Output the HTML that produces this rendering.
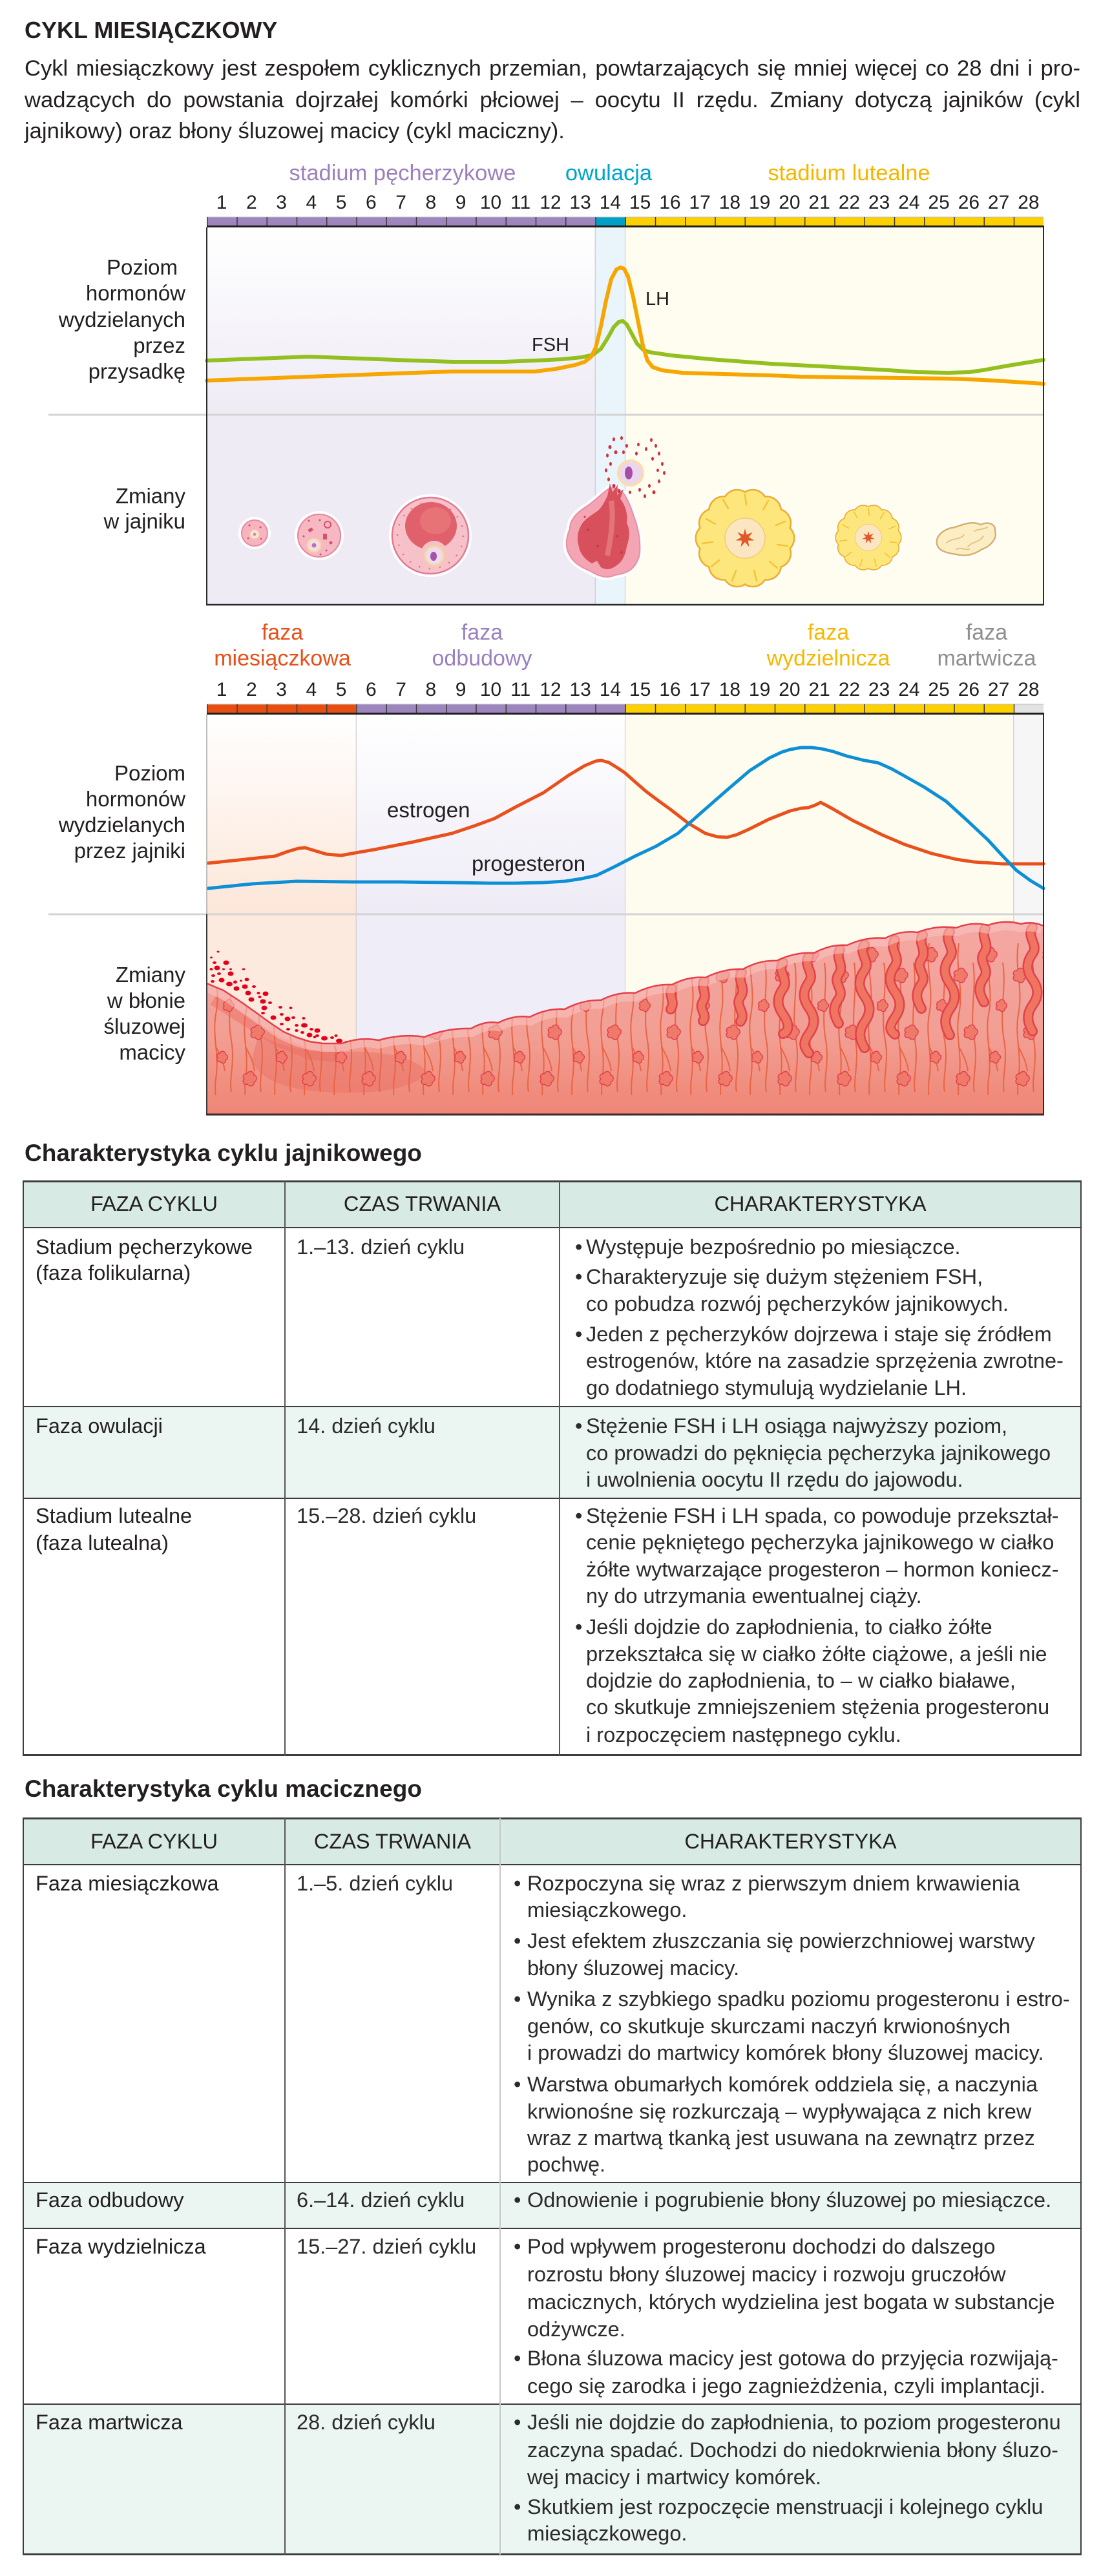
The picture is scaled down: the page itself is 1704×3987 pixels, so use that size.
<!DOCTYPE html>
<html><head><meta charset="utf-8">
<style>
html,body{margin:0;padding:0;background:#fff;}
body{width:1704px;height:3987px;position:relative;overflow:hidden;font-family:"Liberation Sans",Arial,sans-serif;color:#231f20;}
.a{position:absolute;white-space:nowrap;}
.title{left:38px;top:27px;font-weight:bold;font-size:36px;line-height:40px;}
.p{left:38px;width:1634px;font-size:34.6px;line-height:40px;text-align:justify;text-align-last:justify;}
.p3{text-align:left;text-align-last:left;}
.h{left:38px;font-weight:bold;font-size:37px;line-height:41px;}
.t{font-size:32.5px;line-height:37px;color:#231f20;}
.c3{color:#2b2b2b;}
.hd{font-size:32.5px;line-height:37px;text-align:center;}
.bg{position:absolute;}
.hl{position:absolute;background:#3d3d3d;}
</style></head><body>

<div class="a title">CYKL MIESIĄCZKOWY</div>
<div class="a p" style="top:86px">Cykl miesiączkowy jest zespołem cyklicznych przemian, powtarzających się mniej więcej co 28 dni i pro-</div>
<div class="a p" style="top:135px">wadzących do powstania dojrzałej komórki płciowej – oocytu II rzędu. Zmiany dotyczą jajników (cykl</div>
<div class="a p p3" style="top:183px">jajnikowy) oraz błony śluzowej macicy (cykl maciczny).</div>

<svg width="1704" height="1760" viewBox="0 0 1704 1760" style="position:absolute;left:0;top:0" font-family="'Liberation Sans', Arial, sans-serif">
<defs>
 <linearGradient id="g1lav" gradientUnits="userSpaceOnUse" x1="0" y1="352" x2="0" y2="640">
  <stop offset="0" stop-color="#ffffff"/><stop offset="1" stop-color="#eeebf5"/>
 </linearGradient>
 <linearGradient id="g2peach" gradientUnits="userSpaceOnUse" x1="0" y1="1106" x2="0" y2="1415">
  <stop offset="0" stop-color="#ffffff"/><stop offset="1" stop-color="#fce6d8"/>
 </linearGradient>
 <linearGradient id="g2lav" gradientUnits="userSpaceOnUse" x1="0" y1="1106" x2="0" y2="1415">
  <stop offset="0" stop-color="#ffffff"/><stop offset="1" stop-color="#eeebf6"/>
 </linearGradient>
 <linearGradient id="endo" gradientUnits="userSpaceOnUse" x1="0" y1="1430" x2="0" y2="1725">
  <stop offset="0" stop-color="#f4a8a3"/><stop offset="0.6" stop-color="#f29e93"/><stop offset="0.85" stop-color="#f08e7f"/><stop offset="1" stop-color="#ef8676"/>
 </linearGradient>
 <clipPath id="endoClip">
  <path d="M320,1725 L320,1522 L346,1533 L372,1550 L396,1567 L418,1583 L439,1597 L460,1606 L479,1612 L500,1615 L529,1615 Q557.5,1604.5 586,1610 Q621.5,1599.5 657,1605 Q693,1590.5 729,1592 Q750,1579.5 771,1583 Q795.5,1570.5 820,1574 Q847,1560 874,1562 Q902,1547 930,1548 Q956.5,1534.5 983,1537 Q1011.5,1522.5 1040,1524 Q1066,1510.5 1092,1513 Q1121,1498.5 1150,1500 Q1176,1485.5 1202,1487 Q1231,1473 1260,1475 Q1285.5,1461 1311,1463 Q1340.5,1449.5 1370,1452 Q1395,1439.5 1420,1443 Q1450,1431.5 1480,1436 Q1504.5,1426 1529,1432 Q1554.5,1423 1580,1430 Q1597.5,1425.5 1615,1433 L1615,1725 Z"/>
 </clipPath>
 <pattern id="gl" patternUnits="userSpaceOnUse" x="320" y="1420" width="46" height="300">
  <g fill="none" stroke="#ea6444" stroke-width="2">
   <path d="M14,40 C8,80 22,110 14,150 C8,185 20,210 14,250 C12,262 14,270 13,275"/>
   <path d="M14,200 C20,212 26,222 28,238"/>
   <path d="M36,70 C42,110 30,150 38,190 C44,225 34,250 38,270"/>
  </g>
 </pattern>
 <pattern id="bl" patternUnits="userSpaceOnUse" x="320" y="1440" width="92" height="260">
  <g fill="#ef7a6a" stroke="#e2404d" stroke-width="1.5">
   <path d="M12,30 c4,-6 11,-4 11,2 c6,1 5,9 0,11 c1,6 -7,8 -10,3 c-6,2 -9,-5 -5,-8 c-4,-4 0,-9 4,-8 z"/>
   <path d="M58,62 c4,-6 11,-4 11,2 c6,1 5,9 0,11 c1,6 -7,8 -10,3 c-6,2 -9,-5 -5,-8 c-4,-4 0,-9 4,-8 z"/>
   <path d="M30,110 c3,-5 9,-3 9,2 c5,1 4,8 0,9 c1,5 -6,6 -8,2 c-5,2 -7,-4 -4,-6 c-3,-3 0,-7 3,-7 z"/>
   <path d="M74,150 c4,-6 11,-4 11,2 c6,1 5,9 0,11 c1,6 -7,8 -10,3 c-6,2 -9,-5 -5,-8 c-4,-4 0,-9 4,-8 z"/>
   <path d="M20,190 c3,-5 9,-3 9,2 c5,1 4,8 0,9 c1,5 -6,6 -8,2 c-5,2 -7,-4 -4,-6 c-3,-3 0,-7 3,-7 z"/>
   <path d="M62,222 c4,-6 11,-4 11,2 c6,1 5,9 0,11 c1,6 -7,8 -10,3 c-6,2 -9,-5 -5,-8 c-4,-4 0,-9 4,-8 z"/>
  </g>
 </pattern>
 <g id="lobes">
  <circle cx="54" cy="0" r="21"/><circle cx="48.7" cy="23.4" r="21"/><circle cx="33.6" cy="42.2" r="21"/><circle cx="12" cy="52.7" r="21"/>
  <circle cx="-12" cy="52.7" r="21"/><circle cx="-33.6" cy="42.2" r="21"/><circle cx="-48.7" cy="23.4" r="21"/><circle cx="-54" cy="0" r="21"/>
  <circle cx="-48.7" cy="-23.4" r="21"/><circle cx="-33.6" cy="-42.2" r="21"/><circle cx="-12" cy="-52.7" r="21"/><circle cx="12" cy="-52.7" r="21"/>
  <circle cx="33.6" cy="-42.2" r="21"/><circle cx="48.7" cy="-23.4" r="21"/>
 </g>
 <g id="cl">
  <g fill="#fff" stroke="#fff" stroke-width="14"><use href="#lobes"/></g>
  <g fill="#fde77c" stroke="#efad2c" stroke-width="5"><use href="#lobes"/></g>
  <g fill="#fde77c"><use href="#lobes"/></g>
  <circle r="50" fill="#fde77c"/>
  <g fill="none" stroke="#f3c33a" stroke-width="2.5" stroke-linecap="round">
   <path d="M0,-68 L2,-52"/><path d="M36,-58 L28,-44"/><path d="M62,-26 L48,-20"/><path d="M66,12 L50,10"/>
   <path d="M50,46 L38,36"/><path d="M18,66 L14,50"/><path d="M-20,66 L-14,50"/><path d="M-52,44 L-40,34"/>
   <path d="M-66,8 L-50,6"/><path d="M-60,-30 L-46,-22"/><path d="M-34,-60 L-26,-46"/>
  </g>
  <circle r="31" fill="#fbe6c2" stroke="#f3c979" stroke-width="1.5"/>
  <polygon fill="#e0592a" points="0,-15 2.6,-5.41 11.73,-9.35 5.85,-1.34 14.62,3.34 4.69,3.74 6.51,13.51 0,6 -6.51,13.51 -4.69,3.74 -14.62,3.34 -5.85,-1.34 -11.73,-9.35 -2.6,-5.41"/>
 </g>
</defs>

<!-- ===== CHART 1 ===== -->
<g font-size="34.5" text-anchor="middle">
 <text x="623" y="279" fill="#9c80bd">stadium pęcherzykowe</text>
 <text x="942" y="279" fill="#00a3cc">owulacja</text>
 <text x="1314" y="279" fill="#f7b500">stadium lutealne</text>
</g>
<g font-size="30" text-anchor="middle" fill="#231f20">
 <text x="343.1" y="323">1</text><text x="389.4" y="323">2</text><text x="435.6" y="323">3</text><text x="481.9" y="323">4</text>
 <text x="528.1" y="323">5</text><text x="574.4" y="323">6</text><text x="620.6" y="323">7</text><text x="666.9" y="323">8</text>
 <text x="713.1" y="323">9</text><text x="759.4" y="323">10</text><text x="805.6" y="323">11</text><text x="851.9" y="323">12</text>
 <text x="898.1" y="323">13</text><text x="944.4" y="323">14</text><text x="990.6" y="323">15</text><text x="1036.9" y="323">16</text>
 <text x="1083.1" y="323">17</text><text x="1129.4" y="323">18</text><text x="1175.6" y="323">19</text><text x="1221.9" y="323">20</text>
 <text x="1268.1" y="323">21</text><text x="1314.4" y="323">22</text><text x="1360.6" y="323">23</text><text x="1406.9" y="323">24</text>
 <text x="1453.1" y="323">25</text><text x="1499.4" y="323">26</text><text x="1545.6" y="323">27</text><text x="1591.9" y="323">28</text>
</g>
<rect x="320" y="336" width="601.25" height="13" fill="#9d85bd"/>
<rect x="921.25" y="336" width="46.25" height="13" fill="#00a0c6"/>
<rect x="967.5" y="336" width="647.5" height="13" fill="#fdd000"/>
<line x1="320" y1="336" x2="1615" y2="336" stroke="#bdbdbd" stroke-width="1"/>
<line x1="320" y1="342.5" x2="1615" y2="342.5" stroke="#3b3b3b" stroke-width="13" stroke-dasharray="1.5 44.75"/>
<rect x="320" y="349" width="1296" height="3" fill="#1e1e1e"/>

<rect x="320" y="352" width="601.25" height="290" fill="url(#g1lav)"/>
<rect x="320" y="642" width="601.25" height="294" fill="#eeebf5"/>
<rect x="921.25" y="352" width="46.25" height="584" fill="#eaf4fb"/>
<rect x="967.5" y="352" width="647.5" height="584" fill="#fffdf0"/>
<line x1="921.25" y1="352" x2="921.25" y2="936" stroke="#cacaca" stroke-width="1.2"/>
<line x1="967.5" y1="352" x2="967.5" y2="936" stroke="#cacaca" stroke-width="1.2"/>
<line x1="75" y1="642" x2="1615" y2="642" stroke="#d4d4d4" stroke-width="3"/>

<g font-size="33" text-anchor="end" fill="#231f20">
 <text x="275" y="425">Poziom</text>
 <text x="287" y="465">hormonów</text>
 <text x="287" y="506">wydzielanych</text>
 <text x="287" y="546">przez</text>
 <text x="287" y="586">przysadkę</text>
 <text x="287" y="779">Zmiany</text>
 <text x="287" y="818">w jajniku</text>
</g>

<polyline fill="none" stroke="#93c01f" stroke-width="6" stroke-linejoin="round" stroke-linecap="round" points="320,558 400,555 478,552 560,555 640,558 701,560 780,560 829,558 870,556 900,553 918,549 930,540 940,524 950,506 958,498 964,497 970,502 978,517 986,532 995,541 1005,545 1038,550 1100,556 1193,563 1290,568 1375,573 1420,576 1467,577 1500,576 1521,573 1560,566 1615,557"/>
<polyline fill="none" stroke="#f7a600" stroke-width="6" stroke-linejoin="round" stroke-linecap="round" points="320,589 400,586 480,583 560,580 640,577 700,575 760,575 828,575 860,571 890,565 905,560 915,552 922,538 930,505 938,465 946,432 954,417 960,414 966,416 972,428 980,460 988,500 995,535 1002,558 1010,568 1024,573 1056,577 1120,579 1193,581 1238,583 1300,584 1400,585 1467,586 1521,588 1570,591 1615,594"/>
<text x="823" y="543" font-size="29" fill="#231f20">FSH</text>
<text x="999" y="472" font-size="29" fill="#231f20">LH</text>

<!-- follicle 1 -->
<circle cx="394" cy="825" r="25" fill="#fff"/>
<circle cx="394" cy="825" r="20" fill="#f6b4c0" stroke="#e88aa0" stroke-width="2"/>
<circle cx="394" cy="827" r="7" fill="#f9e2e6" stroke="#f5d28a" stroke-width="1.5"/>
<circle cx="394" cy="827" r="2.5" fill="#d58bb5"/>
<g fill="#d34a6a"><circle cx="386" cy="813" r="1.5"/><circle cx="403" cy="816" r="1.5"/><circle cx="384" cy="833" r="1.3"/><circle cx="404" cy="834" r="1.3"/></g>
<!-- follicle 2 -->
<circle cx="494" cy="829" r="38" fill="#fff"/>
<circle cx="494" cy="829" r="33" fill="#f6b8c2" stroke="#e7849a" stroke-width="2"/>
<circle cx="486" cy="844" r="10" fill="#f3dde8" stroke="#f8d9a0" stroke-width="2.5"/>
<circle cx="486" cy="844" r="3.5" fill="#c070b0"/>
<g fill="#d8506e"><rect x="477" y="818" width="7" height="5" transform="rotate(-30 480 820)"/><circle cx="507" cy="812" r="5" fill="none" stroke="#d8506e" stroke-width="2"/><rect x="500" y="826" width="6" height="9"/><circle cx="512" cy="840" r="2.5"/><circle cx="478" cy="806" r="1.5"/><circle cx="495" cy="805" r="1.5"/><circle cx="470" cy="830" r="1.5"/><circle cx="505" cy="852" r="1.5"/><circle cx="496" cy="858" r="1.5"/></g>
<!-- follicle 3 -->
<circle cx="666" cy="829" r="64" fill="#fff"/>
<circle cx="666" cy="829" r="59" fill="#f7c1ca" stroke="#e07a92" stroke-width="2.5"/>
<circle cx="666" cy="829" r="51" fill="none" stroke="#dd6b86" stroke-width="2.5" stroke-dasharray="2 14"/>
<ellipse cx="667" cy="814" rx="40" ry="37" fill="#e0616b"/>
<ellipse cx="674" cy="806" rx="24" ry="21" fill="#e97b7c" opacity="0.7"/>
<circle cx="672" cy="858" r="21" fill="#f7c1ca"/>
<circle cx="672" cy="860" r="15" fill="#eedcee" stroke="#f6d396" stroke-width="3"/>
<ellipse cx="671" cy="861" rx="5" ry="7" fill="#a553a6"/>
<!-- ruptured follicle -->
<path d="M941,757 C930,765 918,778 903,787 C890,796 882,806 882,818 C876,832 874,848 882,860 C888,872 904,880 914,884 C926,892 940,896 952,890 C966,888 980,884 987,867 C992,856 990,846 990,836 C988,822 986,812 982,802 C978,790 974,778 968,768 C962,758 952,752 941,757 Z" fill="#fff" stroke="#fff" stroke-width="10"/>
<path d="M941,757 C930,765 918,778 903,787 C890,796 882,806 882,818 C876,832 874,848 882,860 C888,872 904,880 914,884 C926,892 940,896 952,890 C966,888 980,884 987,867 C992,856 990,846 990,836 C988,822 986,812 982,802 C978,790 974,778 968,768 C962,758 952,752 941,757 Z" fill="#f4a5b4" stroke="#e88ea5" stroke-width="2"/>
<path d="M944,748 L948,762 L956,750 L955,766 L965,757 L960,772 C968,782 972,796 970,810 C976,820 974,834 970,846 C968,858 964,868 956,874 C948,880 940,884 930,878 L924,868 L916,872 C906,866 898,858 896,846 C892,834 894,822 900,812 C906,802 918,796 926,790 C932,784 936,776 940,768 Z" fill="#d8505c"/>
<path d="M946,775 C950,800 946,830 940,860" stroke="#e88484" stroke-width="8" fill="none" opacity="0.7"/>
<g fill="#b8404c"><circle cx="910" cy="820" r="2"/><circle cx="925" cy="845" r="2"/><circle cx="955" cy="830" r="2"/><circle cx="962" cy="855" r="2"/><circle cx="905" cy="800" r="1.5"/></g>
<circle cx="976" cy="732" r="21" fill="#fbdcae"/>
<circle cx="976" cy="732" r="17" fill="#ecd6ee"/>
<ellipse cx="973" cy="732" rx="6" ry="10" fill="#a64ea6"/>
<g fill="#d0303e">
 <ellipse cx="950" cy="680" rx="2" ry="3"/><ellipse cx="962" cy="678" rx="2" ry="3"/><ellipse cx="1008" cy="681" rx="2" ry="3"/><ellipse cx="944" cy="692" rx="2.5" ry="3"/>
 <ellipse cx="970" cy="690" rx="2" ry="3"/><ellipse cx="988" cy="688" rx="2" ry="2.5"/><ellipse cx="1000" cy="695" rx="2" ry="3"/><ellipse cx="1015" cy="690" rx="2" ry="3"/>
 <ellipse cx="940" cy="705" rx="2" ry="3"/><ellipse cx="953" cy="700" rx="2.5" ry="3"/><ellipse cx="1020" cy="702" rx="2" ry="3"/><ellipse cx="1010" cy="710" rx="2" ry="3"/>
 <ellipse cx="945" cy="718" rx="2" ry="3"/><ellipse cx="1025" cy="718" rx="2" ry="3"/><ellipse cx="938" cy="728" rx="2" ry="3"/><ellipse cx="1028" cy="732" rx="2" ry="3"/>
 <ellipse cx="1018" cy="728" rx="2" ry="2.5"/><ellipse cx="942" cy="742" rx="2" ry="3"/><ellipse cx="1020" cy="745" rx="2" ry="3"/><ellipse cx="950" cy="752" rx="2.5" ry="3"/>
 <ellipse cx="1005" cy="752" rx="2" ry="3"/><ellipse cx="990" cy="758" rx="2" ry="3"/><ellipse cx="958" cy="760" rx="2" ry="3"/><ellipse cx="1012" cy="762" rx="2.5" ry="3"/>
 <ellipse cx="998" cy="768" rx="2" ry="3"/><ellipse cx="975" cy="762" rx="2" ry="2.5"/><ellipse cx="965" cy="700" rx="2" ry="3"/><ellipse cx="985" cy="702" rx="2" ry="3"/>
</g>
<!-- corpus luteum -->
<use href="#cl" transform="translate(1153,833)"/>
<use href="#cl" transform="translate(1344,832) scale(0.667)"/>
<!-- corpus albicans -->
<path d="M1450,842 C1448,828 1462,818 1478,816 C1492,811 1505,806 1518,812 C1530,806 1542,812 1540,822 C1544,834 1532,846 1520,850 C1508,858 1494,862 1480,858 C1464,856 1452,852 1450,842 Z" fill="#fff" stroke="#fff" stroke-width="10"/>
<path d="M1450,842 C1448,828 1462,818 1478,816 C1492,811 1505,806 1518,812 C1530,806 1542,812 1540,822 C1544,834 1532,846 1520,850 C1508,858 1494,862 1480,858 C1464,856 1452,852 1450,842 Z" fill="#fbeec5" stroke="#d8b06c" stroke-width="2.5"/>
<g fill="none" stroke="#e3c489" stroke-width="2" stroke-linecap="round">
 <path d="M1465,840 C1475,832 1485,836 1492,828"/><path d="M1498,846 C1505,838 1515,840 1522,830"/><path d="M1480,850 C1488,846 1492,852 1500,850"/><path d="M1508,822 C1515,818 1522,820 1528,816"/>
</g>
<line x1="320" y1="352" x2="320" y2="937" stroke="#2b2b2b" stroke-width="2"/>
<line x1="1615" y1="352" x2="1615" y2="937" stroke="#2b2b2b" stroke-width="2"/>
<line x1="319" y1="936" x2="1616" y2="936" stroke="#2b2b2b" stroke-width="2.5"/>

<!-- ===== CHART 2 ===== -->
<g font-size="34" text-anchor="middle">
 <text x="437" y="990" fill="#e8501a">faza</text><text x="437" y="1030" fill="#e8501a">miesiączkowa</text>
 <text x="746" y="990" fill="#9b80c0">faza</text><text x="746" y="1030" fill="#9b80c0">odbudowy</text>
 <text x="1282" y="990" fill="#f5b800">faza</text><text x="1282" y="1030" fill="#f5b800">wydzielnicza</text>
 <text x="1527" y="990" fill="#8f8f8f">faza</text><text x="1527" y="1030" fill="#8f8f8f">martwicza</text>
</g>
<g font-size="30" text-anchor="middle" fill="#231f20">
 <text x="343.1" y="1077">1</text><text x="389.4" y="1077">2</text><text x="435.6" y="1077">3</text><text x="481.9" y="1077">4</text>
 <text x="528.1" y="1077">5</text><text x="574.4" y="1077">6</text><text x="620.6" y="1077">7</text><text x="666.9" y="1077">8</text>
 <text x="713.1" y="1077">9</text><text x="759.4" y="1077">10</text><text x="805.6" y="1077">11</text><text x="851.9" y="1077">12</text>
 <text x="898.1" y="1077">13</text><text x="944.4" y="1077">14</text><text x="990.6" y="1077">15</text><text x="1036.9" y="1077">16</text>
 <text x="1083.1" y="1077">17</text><text x="1129.4" y="1077">18</text><text x="1175.6" y="1077">19</text><text x="1221.9" y="1077">20</text>
 <text x="1268.1" y="1077">21</text><text x="1314.4" y="1077">22</text><text x="1360.6" y="1077">23</text><text x="1406.9" y="1077">24</text>
 <text x="1453.1" y="1077">25</text><text x="1499.4" y="1077">26</text><text x="1545.6" y="1077">27</text><text x="1591.9" y="1077">28</text>
</g>
<rect x="320" y="1090" width="231.25" height="13" fill="#e84e10"/>
<rect x="551.25" y="1090" width="416.25" height="13" fill="#9d85bd"/>
<rect x="967.5" y="1090" width="601.25" height="13" fill="#fdd000"/>
<rect x="1568.75" y="1090" width="46.25" height="13" fill="#e2e2e2"/>
<line x1="320" y1="1090" x2="1615" y2="1090" stroke="#bdbdbd" stroke-width="1"/>
<line x1="320" y1="1096.5" x2="1615" y2="1096.5" stroke="#3b3b3b" stroke-width="13" stroke-dasharray="1.5 44.75"/>
<rect x="320" y="1103" width="1296" height="3" fill="#1e1e1e"/>

<rect x="320" y="1106" width="231.25" height="309" fill="url(#g2peach)"/>
<rect x="320" y="1415" width="231.25" height="310" fill="#fdeade"/>
<rect x="551.25" y="1106" width="416.25" height="309" fill="url(#g2lav)"/>
<rect x="551.25" y="1415" width="416.25" height="310" fill="#efedf7"/>
<rect x="967.5" y="1106" width="601.25" height="619" fill="#fefcef"/>
<rect x="1568.75" y="1106" width="46.25" height="619" fill="#f6f6f6"/>
<g stroke="#cfcfcf" stroke-width="1.2">
 <line x1="551.25" y1="1106" x2="551.25" y2="1725"/><line x1="967.5" y1="1106" x2="967.5" y2="1725"/><line x1="1568.75" y1="1106" x2="1568.75" y2="1725"/>
</g>
<line x1="75" y1="1415" x2="1615" y2="1415" stroke="#d4d4d4" stroke-width="3"/>

<g font-size="33" text-anchor="end" fill="#231f20">
 <text x="287" y="1208">Poziom</text>
 <text x="287" y="1248">hormonów</text>
 <text x="287" y="1288">wydzielanych</text>
 <text x="287" y="1328">przez jajniki</text>
 <text x="287" y="1520">Zmiany</text>
 <text x="287" y="1560">w błonie</text>
 <text x="287" y="1600">śluzowej</text>
 <text x="287" y="1640">macicy</text>
</g>

<polyline fill="none" stroke="#e8501c" stroke-width="5" stroke-linejoin="round" stroke-linecap="round" points="322,1336 370,1331 426,1325 445,1318 462,1313 472,1312 485,1316 505,1322 528,1324 550,1320 579,1315 640,1303 699,1290 735,1278 765,1267 800,1248 841,1227 880,1200 905,1185 922,1178 931,1177 942,1180 955,1188 967,1196 985,1212 1000,1225 1020,1240 1038,1253 1065,1274 1092,1290 1110,1295 1125,1296 1140,1292 1158,1284 1190,1268 1223,1255 1240,1251 1251,1250 1262,1246 1270,1242 1278,1246 1289,1252 1320,1270 1365,1292 1400,1307 1442,1321 1480,1330 1507,1334 1551,1337 1615,1337"/>
<polyline fill="none" stroke="#0d8fd6" stroke-width="5" stroke-linejoin="round" stroke-linecap="round" points="322,1375 390,1368 459,1364 546,1365 620,1365 699,1366 760,1367 797,1367 840,1366 874,1364 900,1360 923,1355 950,1342 983,1325 1015,1310 1049,1290 1085,1258 1125,1223 1160,1193 1191,1173 1210,1164 1223,1160 1240,1157 1256,1157 1272,1159 1289,1163 1310,1170 1338,1177 1350,1179 1360,1181 1380,1190 1398,1200 1430,1218 1464,1240 1497,1270 1529,1300 1552,1325 1573,1347 1595,1363 1615,1375"/>
<text x="599" y="1265" font-size="33" fill="#231f20">estrogen</text>
<text x="730" y="1348" font-size="33" fill="#231f20">progesteron</text>

<!-- blood drops -->
<g fill="#e3001b">
 <ellipse cx="337.5" cy="1473" rx="2" ry="1.5"/><ellipse cx="327" cy="1482" rx="2" ry="1.5"/><ellipse cx="332" cy="1490" rx="3" ry="2"/><ellipse cx="350" cy="1490" rx="4.5" ry="3.5"/>
 <ellipse cx="336" cy="1498" rx="4.5" ry="3.5"/><ellipse cx="327" cy="1500" rx="2.5" ry="2"/><ellipse cx="346" cy="1500" rx="2" ry="1.5"/><ellipse cx="357" cy="1500" rx="2" ry="1.5"/>
 <ellipse cx="377" cy="1500" rx="2.5" ry="1.5"/><ellipse cx="339" cy="1507" rx="3" ry="2"/><ellipse cx="357" cy="1507" rx="4.5" ry="3.5"/><ellipse cx="330" cy="1510" rx="3" ry="2"/>
 <ellipse cx="343" cy="1517" rx="4.5" ry="3.5"/><ellipse cx="329" cy="1519" rx="3" ry="2"/><ellipse cx="364" cy="1520" rx="3" ry="2.5"/><ellipse cx="382" cy="1516" rx="3.5" ry="2.5"/>
 <ellipse cx="373" cy="1518" rx="2" ry="1.5"/><ellipse cx="355" cy="1523" rx="5" ry="3.5"/><ellipse cx="379" cy="1527" rx="4.5" ry="3.5"/><ellipse cx="393" cy="1527" rx="3" ry="2"/>
 <ellipse cx="366" cy="1530" rx="4.5" ry="3.5"/><ellipse cx="384" cy="1537" rx="4.5" ry="3.5"/><ellipse cx="411" cy="1538" rx="4.5" ry="3.5"/><ellipse cx="400" cy="1537" rx="2.5" ry="2"/>
 <ellipse cx="389" cy="1547" rx="4.5" ry="3.5"/><ellipse cx="407" cy="1550" rx="4.5" ry="3.5"/><ellipse cx="402" cy="1543" rx="2.5" ry="2"/><ellipse cx="418" cy="1552" rx="3" ry="2"/>
 <ellipse cx="434" cy="1559" rx="3" ry="2"/><ellipse cx="409" cy="1560" rx="4.5" ry="3.5"/><ellipse cx="450" cy="1560" rx="2.5" ry="2"/><ellipse cx="423" cy="1575" rx="4.5" ry="3.5"/>
 <ellipse cx="445" cy="1577" rx="4.5" ry="3.5"/><ellipse cx="454" cy="1575" rx="3" ry="2"/><ellipse cx="470" cy="1576" rx="2.5" ry="2"/><ellipse cx="407" cy="1568" rx="3" ry="2"/>
 <ellipse cx="436" cy="1570" rx="3" ry="2"/><ellipse cx="436" cy="1585" rx="3" ry="2"/><ellipse cx="459" cy="1587" rx="3" ry="2"/><ellipse cx="471" cy="1587" rx="5" ry="3.5"/>
 <ellipse cx="482" cy="1593" rx="3" ry="2"/><ellipse cx="491" cy="1595" rx="4.5" ry="3.5"/><ellipse cx="446" cy="1593" rx="3" ry="2"/><ellipse cx="459" cy="1595" rx="3" ry="2"/>
 <ellipse cx="468" cy="1598" rx="3" ry="2"/><ellipse cx="479" cy="1602" rx="4.5" ry="3.5"/><ellipse cx="491" cy="1603" rx="3" ry="2"/><ellipse cx="502" cy="1607" rx="5" ry="3.5"/>
 <ellipse cx="514" cy="1606" rx="3" ry="2"/><ellipse cx="520" cy="1603" rx="2.5" ry="2"/><ellipse cx="525" cy="1611" rx="5" ry="3.5"/><ellipse cx="536" cy="1613" rx="3" ry="2"/>
 <ellipse cx="487" cy="1605" rx="2.5" ry="2"/>
</g>

<!-- endometrium -->
<g clip-path="url(#endoClip)">
 <rect x="320" y="1420" width="1295" height="305" fill="url(#endo)"/>
 <path d="M400,1600 C430,1620 480,1630 540,1628 C600,1626 650,1640 660,1660 C640,1690 560,1694 500,1690 C440,1686 400,1670 390,1640 Z" fill="#e9685c" opacity="0.4"/>
 <path d="M330,1548 L380,1580 L430,1612 L480,1632 L520,1636" fill="none" stroke="#ea6a5e" stroke-width="16" opacity="0.45"/>
 <rect x="320" y="1420" width="1295" height="280" fill="url(#gl)"/>
 <rect x="320" y="1440" width="1295" height="250" fill="url(#bl)"/>
 <g fill="none" stroke-linecap="round" stroke-linejoin="round">
  <g stroke="#e2404c" stroke-width="16">
   <path d="M1148,1505 c-8,14 8,24 -2,38 s10,24 0,38"/>
   <path d="M1212,1490 c-10,14 10,26 0,40 s-10,26 0,40 s10,26 0,30"/>
   <path d="M1252,1480 c-10,14 10,26 0,40 s-10,26 0,40 s10,26 0,40 s-8,20 0,30"/>
   <path d="M1300,1470 c-8,14 8,24 -2,38 s10,24 0,38 s-8,24 0,38"/>
   <path d="M1338,1462 c-10,14 10,26 0,40 s-10,26 0,40 s10,26 0,40 s-8,26 0,40"/>
   <path d="M1385,1455 c-10,14 10,26 0,40 s-10,26 0,40 s10,26 0,40 s-8,20 0,26"/>
   <path d="M1428,1447 c-8,14 8,24 -2,38 s10,24 0,38 s-8,24 0,38"/>
   <path d="M1470,1442 c-10,14 10,26 0,40 s-10,26 0,40 s10,26 0,40 s-8,26 0,40"/>
   <path d="M1525,1437 c-8,14 8,24 -2,38 s10,24 0,38 s-8,24 0,38"/>
   <path d="M1598,1436 c-10,14 10,26 0,40 s-10,26 0,40 s10,26 0,40 s-8,26 0,40"/>
   <path d="M1090,1518 c-6,12 6,20 -2,32 s8,20 0,30"/>
   <path d="M1040,1530 c-6,12 6,20 -2,32"/>
  </g>
  <g stroke="#ef7560" stroke-width="11">
   <path d="M1148,1505 c-8,14 8,24 -2,38 s10,24 0,38"/>
   <path d="M1212,1490 c-10,14 10,26 0,40 s-10,26 0,40 s10,26 0,30"/>
   <path d="M1252,1480 c-10,14 10,26 0,40 s-10,26 0,40 s10,26 0,40 s-8,20 0,30"/>
   <path d="M1300,1470 c-8,14 8,24 -2,38 s10,24 0,38 s-8,24 0,38"/>
   <path d="M1338,1462 c-10,14 10,26 0,40 s-10,26 0,40 s10,26 0,40 s-8,26 0,40"/>
   <path d="M1385,1455 c-10,14 10,26 0,40 s-10,26 0,40 s10,26 0,40 s-8,20 0,26"/>
   <path d="M1428,1447 c-8,14 8,24 -2,38 s10,24 0,38 s-8,24 0,38"/>
   <path d="M1470,1442 c-10,14 10,26 0,40 s-10,26 0,40 s10,26 0,40 s-8,26 0,40"/>
   <path d="M1525,1437 c-8,14 8,24 -2,38 s10,24 0,38 s-8,24 0,38"/>
   <path d="M1598,1436 c-10,14 10,26 0,40 s-10,26 0,40 s10,26 0,40 s-8,26 0,40"/>
   <path d="M1090,1518 c-6,12 6,20 -2,32 s8,20 0,30"/>
   <path d="M1040,1530 c-6,12 6,20 -2,32"/>
  </g>
 </g>
 <path d="M320,1522 L346,1533 L372,1550 L396,1567 L418,1583 L439,1597 L460,1606 L479,1612 L500,1615 L529,1615 Q557.5,1604.5 586,1610 Q621.5,1599.5 657,1605 Q693,1590.5 729,1592 Q750,1579.5 771,1583 Q795.5,1570.5 820,1574 Q847,1560 874,1562 Q902,1547 930,1548 Q956.5,1534.5 983,1537 Q1011.5,1522.5 1040,1524 Q1066,1510.5 1092,1513 Q1121,1498.5 1150,1500 Q1176,1485.5 1202,1487 Q1231,1473 1260,1475 Q1285.5,1461 1311,1463 Q1340.5,1449.5 1370,1452 Q1395,1439.5 1420,1443 Q1450,1431.5 1480,1436 Q1504.5,1426 1529,1432 Q1554.5,1423 1580,1430 Q1597.5,1425.5 1615,1433" fill="none" stroke="#f8c4c2" stroke-width="26" opacity="0.55"/>
</g>
<path d="M320,1522 L346,1533 L372,1550 L396,1567 L418,1583 L439,1597 L460,1606 L479,1612 L500,1615 L529,1615 Q557.5,1604.5 586,1610 Q621.5,1599.5 657,1605 Q693,1590.5 729,1592 Q750,1579.5 771,1583 Q795.5,1570.5 820,1574 Q847,1560 874,1562 Q902,1547 930,1548 Q956.5,1534.5 983,1537 Q1011.5,1522.5 1040,1524 Q1066,1510.5 1092,1513 Q1121,1498.5 1150,1500 Q1176,1485.5 1202,1487 Q1231,1473 1260,1475 Q1285.5,1461 1311,1463 Q1340.5,1449.5 1370,1452 Q1395,1439.5 1420,1443 Q1450,1431.5 1480,1436 Q1504.5,1426 1529,1432 Q1554.5,1423 1580,1430 Q1597.5,1425.5 1615,1433" fill="none" stroke="#e5404a" stroke-width="2.5"/>

<line x1="320" y1="1106" x2="320" y2="1415" stroke="#a8a8a8" stroke-width="1.5"/>
<line x1="320" y1="1415" x2="320" y2="1726" stroke="#3a3a3a" stroke-width="2"/>
<line x1="1615" y1="1106" x2="1615" y2="1726" stroke="#2b2b2b" stroke-width="2"/>
<line x1="319" y1="1725" x2="1616" y2="1725" stroke="#3a2a2a" stroke-width="3"/>
</svg>

<!-- ===== TABLE 1 ===== -->
<div class="a h" style="top:1764px">Charakterystyka cyklu jajnikowego</div>
<div class="bg" style="left:36px;top:1828px;width:1637px;height:72px;background:#d7eae4"></div>
<div class="bg" style="left:36px;top:2177px;width:1637px;height:142px;background:#ebf5f2"></div>
<div class="hl" style="left:35px;top:1827px;width:1639px;height:3px"></div>
<div class="hl" style="left:35px;top:1899px;width:1639px;height:2px"></div>
<div class="hl" style="left:35px;top:2176px;width:1639px;height:2px"></div>
<div class="hl" style="left:35px;top:2318px;width:1639px;height:2px"></div>
<div class="hl" style="left:35px;top:2715px;width:1639px;height:3px"></div>
<div class="hl" style="left:35px;top:1828px;width:2px;height:889px"></div>
<div class="hl" style="left:440px;top:1828px;width:1.5px;height:889px;background:#555"></div>
<div class="hl" style="left:865px;top:1828px;width:1.5px;height:889px;background:#555"></div>
<div class="hl" style="left:1672px;top:1828px;width:2px;height:889px"></div>

<div class="a hd" style="left:36px;width:405px;top:1845px">FAZA CYKLU</div>
<div class="a hd" style="left:441px;width:425px;top:1845px">CZAS TRWANIA</div>
<div class="a hd" style="left:866px;width:807px;top:1845px">CHARAKTERYSTYKA</div>

<div class="a t" style="left:55px;top:1912px">Stadium pęcherzykowe</div>
<div class="a t" style="left:55px;top:1952px">(faza folikularna)</div>
<div class="a t c3" style="left:459px;top:1912px">1.–13. dzień cyklu</div>
<div class="a t c3" style="left:890px;top:1912px">•</div>
<div class="a t c3" style="left:907px;top:1912px">Występuje bezpośrednio po miesiączce.</div>
<div class="a t c3" style="left:890px;top:1958px">•</div>
<div class="a t c3" style="left:907px;top:1958px">Charakteryzuje się dużym stężeniem FSH,</div>
<div class="a t c3" style="left:907px;top:2000px">co pobudza rozwój pęcherzyków jajnikowych.</div>
<div class="a t c3" style="left:890px;top:2047px">•</div>
<div class="a t c3" style="left:907px;top:2047px">Jeden z pęcherzyków dojrzewa i staje się źródłem</div>
<div class="a t c3" style="left:907px;top:2088px">estrogenów, które na zasadzie sprzężenia zwrotne-</div>
<div class="a t c3" style="left:907px;top:2130px">go dodatniego stymulują wydzielanie LH.</div>

<div class="a t" style="left:55px;top:2189px">Faza owulacji</div>
<div class="a t c3" style="left:459px;top:2189px">14. dzień cyklu</div>
<div class="a t c3" style="left:890px;top:2189px">•</div>
<div class="a t c3" style="left:907px;top:2189px">Stężenie FSH i LH osiąga najwyższy poziom,</div>
<div class="a t c3" style="left:907px;top:2231px">co prowadzi do pęknięcia pęcherzyka jajnikowego</div>
<div class="a t c3" style="left:907px;top:2272px">i uwolnienia oocytu II rzędu do jajowodu.</div>

<div class="a t" style="left:55px;top:2328px">Stadium lutealne</div>
<div class="a t" style="left:55px;top:2370px">(faza lutealna)</div>
<div class="a t c3" style="left:459px;top:2328px">15.–28. dzień cyklu</div>
<div class="a t c3" style="left:890px;top:2328px">•</div>
<div class="a t c3" style="left:907px;top:2328px">Stężenie FSH i LH spada, co powoduje przekształ-</div>
<div class="a t c3" style="left:907px;top:2369px">cenie pękniętego pęcherzyka jajnikowego w ciałko</div>
<div class="a t c3" style="left:907px;top:2411px">żółte wytwarzające progesteron – hormon koniecz-</div>
<div class="a t c3" style="left:907px;top:2452px">ny do utrzymania ewentualnej ciąży.</div>
<div class="a t c3" style="left:890px;top:2500px">•</div>
<div class="a t c3" style="left:907px;top:2500px">Jeśli dojdzie do zapłodnienia, to ciałko żółte</div>
<div class="a t c3" style="left:907px;top:2542px">przekształca się w ciałko żółte ciążowe, a jeśli nie</div>
<div class="a t c3" style="left:907px;top:2583px">dojdzie do zapłodnienia, to – w ciałko białawe,</div>
<div class="a t c3" style="left:907px;top:2624px">co skutkuje zmniejszeniem stężenia progesteronu</div>
<div class="a t c3" style="left:907px;top:2667px">i rozpoczęciem następnego cyklu.</div>

<!-- ===== TABLE 2 ===== -->
<div class="a h" style="top:2748px">Charakterystyka cyklu macicznego</div>
<div class="bg" style="left:36px;top:2814px;width:1637px;height:72px;background:#d7eae4"></div>
<div class="bg" style="left:36px;top:3378px;width:1637px;height:71px;background:#ebf5f2"></div>
<div class="bg" style="left:36px;top:3721px;width:1637px;height:232px;background:#ebf5f2"></div>
<div class="hl" style="left:35px;top:2813px;width:1639px;height:3px"></div>
<div class="hl" style="left:35px;top:2885px;width:1639px;height:2px"></div>
<div class="hl" style="left:35px;top:3377px;width:1639px;height:2px"></div>
<div class="hl" style="left:35px;top:3448px;width:1639px;height:2px"></div>
<div class="hl" style="left:35px;top:3720px;width:1639px;height:2px"></div>
<div class="hl" style="left:35px;top:3952px;width:1639px;height:3px"></div>
<div class="hl" style="left:35px;top:2814px;width:2px;height:1140px"></div>
<div class="hl" style="left:440px;top:2814px;width:1.5px;height:1140px;background:#555"></div>
<div class="hl" style="left:773px;top:2814px;width:1.5px;height:1140px;background:#c8c8c8"></div>
<div class="hl" style="left:1672px;top:2814px;width:2px;height:1140px"></div>

<div class="a hd" style="left:36px;width:405px;top:2832px">FAZA CYKLU</div>
<div class="a hd" style="left:441px;width:333px;top:2832px">CZAS TRWANIA</div>
<div class="a hd" style="left:774px;width:899px;top:2832px">CHARAKTERYSTYKA</div>

<div class="a t" style="left:55px;top:2897px">Faza miesiączkowa</div>
<div class="a t c3" style="left:459px;top:2897px">1.–5. dzień cyklu</div>
<div class="a t c3" style="left:795px;top:2897px">•</div>
<div class="a t c3" style="left:816px;top:2897px">Rozpoczyna się wraz z pierwszym dniem krwawienia</div>
<div class="a t c3" style="left:816px;top:2938px">miesiączkowego.</div>
<div class="a t c3" style="left:795px;top:2986px">•</div>
<div class="a t c3" style="left:816px;top:2986px">Jest efektem złuszczania się powierzchniowej warstwy</div>
<div class="a t c3" style="left:816px;top:3028px">błony śluzowej macicy.</div>
<div class="a t c3" style="left:795px;top:3076px">•</div>
<div class="a t c3" style="left:816px;top:3076px">Wynika z szybkiego spadku poziomu progesteronu i estro-</div>
<div class="a t c3" style="left:816px;top:3118px">genów, co skutkuje skurczami naczyń krwionośnych</div>
<div class="a t c3" style="left:816px;top:3159px">i prowadzi do martwicy komórek błony śluzowej macicy.</div>
<div class="a t c3" style="left:795px;top:3208px">•</div>
<div class="a t c3" style="left:816px;top:3208px">Warstwa obumarłych komórek oddziela się, a naczynia</div>
<div class="a t c3" style="left:816px;top:3250px">krwionośne się rozkurczają – wypływająca z nich krew</div>
<div class="a t c3" style="left:816px;top:3291px">wraz z martwą tkanką jest usuwana na zewnątrz przez</div>
<div class="a t c3" style="left:816px;top:3332px">pochwę.</div>

<div class="a t" style="left:55px;top:3387px">Faza odbudowy</div>
<div class="a t c3" style="left:459px;top:3387px">6.–14. dzień cyklu</div>
<div class="a t c3" style="left:795px;top:3387px">•</div>
<div class="a t c3" style="left:816px;top:3387px">Odnowienie i pogrubienie błony śluzowej po miesiączce.</div>

<div class="a t" style="left:55px;top:3459px">Faza wydzielnicza</div>
<div class="a t c3" style="left:459px;top:3459px">15.–27. dzień cyklu</div>
<div class="a t c3" style="left:795px;top:3459px">•</div>
<div class="a t c3" style="left:816px;top:3459px">Pod wpływem progesteronu dochodzi do dalszego</div>
<div class="a t c3" style="left:816px;top:3502px">rozrostu błony śluzowej macicy i rozwoju gruczołów</div>
<div class="a t c3" style="left:816px;top:3545px">macicznych, których wydzielina jest bogata w substancje</div>
<div class="a t c3" style="left:816px;top:3587px">odżywcze.</div>
<div class="a t c3" style="left:795px;top:3632px">•</div>
<div class="a t c3" style="left:816px;top:3632px">Błona śluzowa macicy jest gotowa do przyjęcia rozwijają-</div>
<div class="a t c3" style="left:816px;top:3675px">cego się zarodka i jego zagnieżdżenia, czyli implantacji.</div>

<div class="a t" style="left:55px;top:3731px">Faza martwicza</div>
<div class="a t c3" style="left:459px;top:3731px">28. dzień cyklu</div>
<div class="a t c3" style="left:795px;top:3731px">•</div>
<div class="a t c3" style="left:816px;top:3731px">Jeśli nie dojdzie do zapłodnienia, to poziom progesteronu</div>
<div class="a t c3" style="left:816px;top:3774px">zaczyna spadać. Dochodzi do niedokrwienia błony śluzo-</div>
<div class="a t c3" style="left:816px;top:3816px">wej macicy i martwicy komórek.</div>
<div class="a t c3" style="left:795px;top:3862px">•</div>
<div class="a t c3" style="left:816px;top:3862px">Skutkiem jest rozpoczęcie menstruacji i kolejnego cyklu</div>
<div class="a t c3" style="left:816px;top:3903px">miesiączkowego.</div>

</body></html>
